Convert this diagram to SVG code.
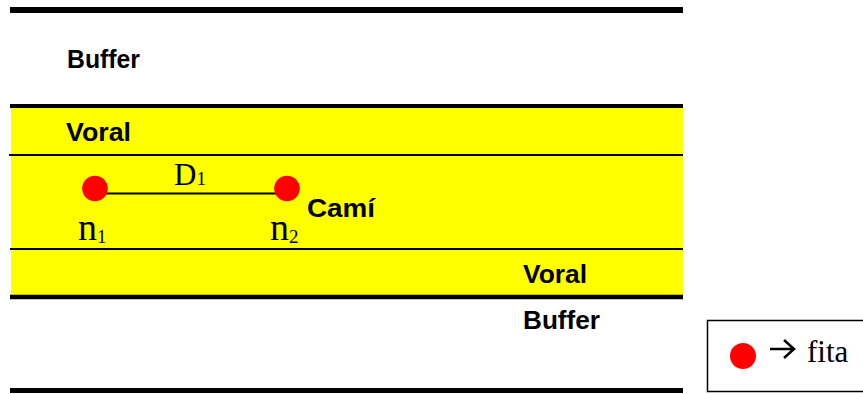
<svg xmlns="http://www.w3.org/2000/svg" width="863" height="394" viewBox="0 0 863 394">
<style>
.lbl{font-family:"Liberation Sans",Arial,sans-serif;font-weight:bold;font-size:25px;fill:#000}
.ser{font-family:"Liberation Serif","Times New Roman",serif;fill:#000}
.rule{stroke:#000;fill:none}
.dot{fill:#ff0000}
</style>
<rect width="863" height="394" fill="#fff"/>
<g id="road">
<rect x="11" y="107" width="672" height="190" fill="#ffff00"/>
<line class="rule" x1="10" y1="10" x2="683" y2="10" stroke-width="6"/>
<line class="rule" x1="10" y1="106" x2="683" y2="106" stroke-width="4"/>
<line class="rule" x1="9" y1="155" x2="683" y2="155" stroke-width="2"/>
<line class="rule" x1="10" y1="249" x2="683" y2="249" stroke-width="2"/>
<line class="rule" x1="10" y1="297" x2="683" y2="297" stroke-width="4.5"/>
<line class="rule" x1="10" y1="390.5" x2="683" y2="390.5" stroke-width="5"/>
<text class="lbl" x="67" y="68" textLength="73" lengthAdjust="spacingAndGlyphs">Buffer</text>
<text class="lbl" x="66" y="141" textLength="65" lengthAdjust="spacingAndGlyphs">Voral</text>
<text class="lbl" x="307" y="217" textLength="68" lengthAdjust="spacingAndGlyphs">Camí</text>
<text class="lbl" x="523" y="283" textLength="64" lengthAdjust="spacingAndGlyphs">Voral</text>
<text class="lbl" x="523" y="329" textLength="77" lengthAdjust="spacingAndGlyphs">Buffer</text>
</g>
<g id="connectors">
<line class="rule" x1="106" y1="193.5" x2="276" y2="193.5" stroke-width="2"/>
</g>
<g id="n1">
<circle class="dot" cx="95" cy="188.5" r="12.8"/>
<text class="ser" x="78" y="240" font-size="38">n<tspan font-size="19" dy="2.5">1</tspan></text>
</g>
<g id="n2">
<circle class="dot" cx="287" cy="188.5" r="12.8"/>
<text class="ser" x="270" y="240" font-size="38">n<tspan font-size="19" dy="2.5">2</tspan></text>
</g>
<g id="d1label">
<text class="ser" x="174" y="185" font-size="31">D<tspan font-size="19">1</tspan></text>
</g>
<g id="legend">
<rect x="707.5" y="320.5" width="160" height="71" fill="#fff" stroke="#000" stroke-width="1.5"/>
<circle class="dot" cx="743" cy="356" r="13"/>
<path d="M770 349 H793 M784 340 L794 349 L784 358" fill="none" stroke="#000" stroke-width="2.5"/>
<text class="ser" x="807" y="362" font-size="31">fita</text>
</g>
</svg>
